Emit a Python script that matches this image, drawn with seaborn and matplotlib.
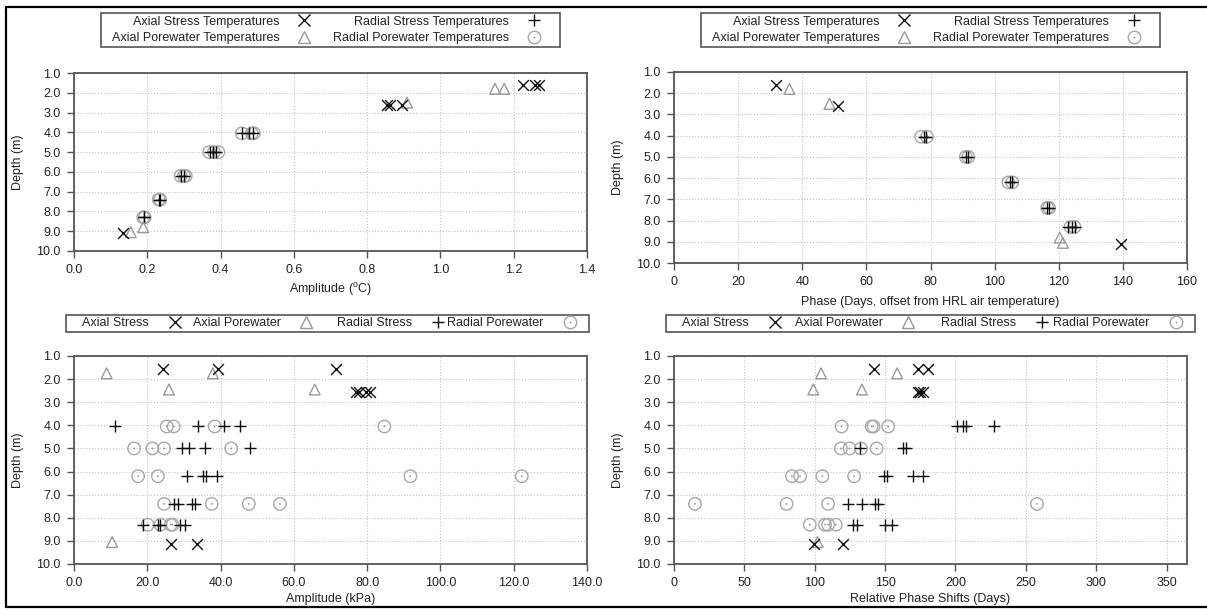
import matplotlib
matplotlib.use("Agg")
import matplotlib.pyplot as plt
import seaborn as sns
from matplotlib.lines import Line2D
from matplotlib.legend_handler import HandlerTuple
from matplotlib.ticker import FormatStrFormatter, MultipleLocator

# ---------------- data ----------------
# Panel A: temperature amplitude (deg C) vs depth (m)
a_axs_x = [1.225, 1.258, 1.268, 0.854, 0.862, 0.895, 0.133]
a_axs_d = [1.6, 1.6, 1.6, 2.6, 2.6, 2.6, 9.1]
a_axp_x = [1.149, 1.174, 0.909, 0.189, 0.155]
a_axp_d = [1.8, 1.8, 2.5, 8.8, 9.05]
a_ras_x = [0.458, 0.478, 0.488, 0.372, 0.380, 0.388, 0.293, 0.300, 0.232, 0.235, 0.190, 0.192]
a_ras_d = [4.05, 4.05, 4.05, 5.0, 5.0, 5.0, 6.2, 6.2, 7.4, 7.4, 8.3, 8.3]
a_rap_x = [0.458, 0.485, 0.491, 0.369, 0.382, 0.394, 0.291, 0.300, 0.305, 0.231, 0.235, 0.189, 0.193]
a_rap_d = [4.05, 4.05, 4.05, 5.0, 5.0, 5.0, 6.2, 6.2, 6.2, 7.4, 7.4, 8.3, 8.3]

# Panel B: temperature phase (days, offset from HRL air temperature)
b_axs_x = [31.7, 51.3, 139.4]
b_axs_d = [1.6, 2.6, 9.1]
b_axp_x = [36.0, 48.5, 120.3, 121.3]
b_axp_d = [1.8, 2.5, 8.8, 9.05]
b_ras_x = [78.0, 78.6, 91.2, 91.6, 104.8, 105.4, 116.4, 116.9, 122.8, 124.0, 125.0]
b_ras_d = [4.05, 4.05, 5.0, 5.0, 6.2, 6.2, 7.4, 7.4, 8.3, 8.3, 8.3]
b_rap_x = [77.1, 78.9, 91.0, 91.8, 104.3, 105.5, 116.4, 117.0, 123.7, 124.9]
b_rap_d = [4.05, 4.05, 5.0, 5.0, 6.2, 6.2, 7.4, 7.4, 8.3, 8.3]

# Panel C: pressure amplitude (kPa)
c_axs_x = [24.3, 39.3, 71.4, 77.0, 77.7, 79.8, 80.8, 26.6, 33.7]
c_axs_d = [1.55, 1.55, 1.55, 2.55, 2.55, 2.55, 2.55, 9.12, 9.12]
c_axp_x = [8.9, 37.9, 25.9, 65.7, 10.4]
c_axp_d = [1.75, 1.75, 2.45, 2.45, 9.05]
c_ras_x = [11.2, 33.9, 40.8, 45.2, 29.5, 31.4, 35.8, 47.9, 30.9, 35.3, 36.0, 39.0,
           27.4, 28.5, 32.2, 33.0, 18.7, 22.9, 23.6, 29.0, 30.3]
c_ras_d = [4.05, 4.05, 4.05, 4.05, 5.0, 5.0, 5.0, 5.0, 6.2, 6.2, 6.2, 6.2,
           7.4, 7.4, 7.4, 7.4, 8.3, 8.3, 8.3, 8.3, 8.3]
c_rap_x = [25.3, 27.2, 38.4, 84.7, 16.4, 21.4, 24.6, 42.9, 17.5, 22.9, 91.8, 122.2,
           24.6, 37.6, 47.7, 56.2, 20.1, 23.6, 26.4, 26.9]
c_rap_d = [4.05, 4.05, 4.05, 4.05, 5.0, 5.0, 5.0, 5.0, 6.2, 6.2, 6.2, 6.2,
           7.4, 7.4, 7.4, 7.4, 8.3, 8.3, 8.3, 8.3]

# Panel D: relative phase shifts (days)
d_axs_x = [141.8, 173.5, 180.6, 173.5, 175.1, 177.1, 99.8, 120.0]
d_axs_d = [1.55, 1.55, 1.55, 2.55, 2.55, 2.55, 9.12, 9.12]
d_axp_x = [104.5, 158.6, 99.0, 133.5, 102.0]
d_axp_d = [1.75, 1.75, 2.45, 2.45, 9.05]
d_ras_x = [201.1, 205.0, 207.4, 227.5, 132.4, 162.7, 164.7, 149.5, 151.4, 169.6, 177.1,
           123.3, 133.8, 142.6, 144.8, 127.4, 130.2, 150.0, 155.0]
d_ras_d = [4.05, 4.05, 4.05, 4.05, 5.0, 5.0, 5.0, 6.2, 6.2, 6.2, 6.2,
           7.4, 7.4, 7.4, 7.4, 8.3, 8.3, 8.3, 8.3]
d_rap_x = [119.1, 140.4, 141.8, 152.2, 118.6, 124.7, 132.9, 144.0, 83.8, 89.6, 105.4, 128.0,
           14.9, 80.0, 109.5, 257.9, 96.5, 107.3, 109.5, 115.0]
d_rap_d = [4.05, 4.05, 4.05, 4.05, 5.0, 5.0, 5.0, 5.0, 6.2, 6.2, 6.2, 6.2,
           7.4, 7.4, 7.4, 7.4, 8.3, 8.3, 8.3, 8.3]

top_labels = ["Axial Stress Temperatures", "Axial Porewater Temperatures",
              "Radial Stress Temperatures", "Radial Porewater Temperatures"]
bottom_labels = ["Axial Stress", "Axial Porewater", "Radial Stress", "Radial Porewater"]
depth_label = "Depth (m)"
x_labels = [r"Amplitude ($^{\mathrm{o}}$C)", "Phase (Days, offset from HRL air temperature)",
            "Amplitude (kPa)", "Relative Phase Shifts (Days)"]

# ---------------- style ----------------
sns.set_theme(style="ticks")
plt.rcParams["font.family"] = ["Liberation Sans", "DejaVu Sans"]
plt.rcParams["mathtext.fontset"] = "custom"
plt.rcParams["mathtext.rm"] = "Liberation Sans"
plt.rcParams["mathtext.it"] = "Liberation Sans:italic"

BLACK = "#111111"
TRI = "#9a9a9a"
CIRC = "#a8a8a8"
DOT = "#8a8a8a"
TXT = "#222222"
SPINE = "#555555"

W, H = 1207, 610
fig = plt.figure(figsize=(W / 100, H / 100), dpi=100)


def frac_rect(l, r, t, b):
    return [l / W, 1 - b / H, (r - l) / W, (b - t) / H]


ax_a = fig.add_axes(frac_rect(74, 587, 73, 251))
ax_b = fig.add_axes(frac_rect(674, 1187, 72, 263))
ax_c = fig.add_axes(frac_rect(74, 587, 356, 564))
ax_d = fig.add_axes(frac_rect(674, 1187, 356, 564))


def draw(ax, axs, axp, ras, rap):
    sns.scatterplot(x=rap[0], y=rap[1], ax=ax, marker="o", s=80, color=CIRC,
                    facecolor="none", edgecolor=CIRC, linewidth=1.0, legend=False, zorder=3)
    sns.scatterplot(x=rap[0], y=rap[1], ax=ax, marker="o", s=1.5, color=DOT,
                    edgecolor="none", linewidth=0, legend=False, zorder=3)
    sns.scatterplot(x=ras[0], y=ras[1], ax=ax, marker="+", s=80, color=BLACK,
                    linewidth=1.0, legend=False, zorder=4)
    sns.scatterplot(x=axp[0], y=axp[1], ax=ax, marker="^", s=60, color=TRI,
                    facecolor="none", edgecolor=TRI, linewidth=1.0, legend=False, zorder=5)
    sns.scatterplot(x=axs[0], y=axs[1], ax=ax, marker="x", s=60, color=BLACK,
                    linewidth=1.0, legend=False, zorder=6)


def style(ax, xlim, xstep, fmt, xlabel, xlabel_y):
    ax.set_xlim(*xlim)
    ax.set_ylim(10, 1)
    ax.xaxis.set_major_locator(MultipleLocator(xstep))
    ax.yaxis.set_major_locator(MultipleLocator(1))
    ax.xaxis.set_major_formatter(FormatStrFormatter(fmt))
    ax.yaxis.set_major_formatter(FormatStrFormatter("%.1f"))
    ax.grid(True, color="#c4c4c4", ls=":", lw=0.8)
    ax.set_axisbelow(True)
    for sp in ax.spines.values():
        sp.set_color(SPINE)
        sp.set_linewidth(1.3)
    ax.tick_params(direction="out", length=5, width=1, color=SPINE, labelsize=9,
                   labelcolor=TXT, pad=4.5, top=False, right=False, left=True, bottom=True)
    ax.set_xlabel(xlabel, fontsize=9, color=TXT)
    ax.set_ylabel(depth_label, fontsize=9, color=TXT)
    ax.xaxis.set_label_coords(0.5, xlabel_y)
    ax.yaxis.set_label_coords(-0.097, 0.5)


draw(ax_a, (a_axs_x, a_axs_d), (a_axp_x, a_axp_d), (a_ras_x, a_ras_d), (a_rap_x, a_rap_d))
draw(ax_b, (b_axs_x, b_axs_d), (b_axp_x, b_axp_d), (b_ras_x, b_ras_d), (b_rap_x, b_rap_d))
draw(ax_c, (c_axs_x, c_axs_d), (c_axp_x, c_axp_d), (c_ras_x, c_ras_d), (c_rap_x, c_rap_d))
draw(ax_d, (d_axs_x, d_axs_d), (d_axp_x, d_axp_d), (d_ras_x, d_ras_d), (d_rap_x, d_rap_d))

style(ax_a, (0, 1.4), 0.2, "%.1f", x_labels[0], -30 / 178)
style(ax_b, (0, 160), 20, "%d", x_labels[1], -33 / 191)
style(ax_c, (0, 140), 20, "%.1f", x_labels[2], -29 / 208)
style(ax_d, (0, 364.5), 50, "%d", x_labels[3], -29 / 208)


# ---------------- legends ----------------
def handles():
    h_as = Line2D([], [], ls="none", marker="x", ms=8, mew=1.0, color=BLACK)
    h_ap = Line2D([], [], ls="none", marker="^", ms=8, mew=1.0, mfc="none", mec=TRI)
    h_rs = Line2D([], [], ls="none", marker="+", ms=9, mew=1.0, color=BLACK)
    h_rp = (Line2D([], [], ls="none", marker="o", ms=9, mew=1.0, mfc="none", mec=CIRC),
            Line2D([], [], ls="none", marker="o", ms=1.2, mew=0, color=DOT))
    return [h_as, h_ap, h_rs, h_rp]


common = dict(markerfirst=False, fontsize=9, frameon=True, fancybox=False, framealpha=1,
              edgecolor=SPINE, borderaxespad=0, labelcolor=TXT,
              bbox_transform=fig.transFigure, handler_map={tuple: HandlerTuple(ndivide=1)})

for cx in (330.5, 930.5):
    leg = fig.legend(handles(), top_labels, ncol=2, loc="upper center",
                     bbox_to_anchor=(cx / W, 1 - 13 / H), borderpad=0.2, labelspacing=0.4,
                     handlelength=3.7, handletextpad=0.15, columnspacing=0.46, **common)
    leg.get_frame().set_linewidth(1.2)
    cols = leg._legend_handle_box.get_children()
    cols[0].width = 224

for x0, x1 in ((66, 589), (666, 1195)):
    leg = fig.legend(handles(), bottom_labels, ncol=4, mode="expand", loc="center",
                     bbox_to_anchor=(x0 / W, 1 - 333 / H, (x1 - x0) / W, 19 / H),
                     borderpad=0.2, handlelength=2.72, handletextpad=0.7, columnspacing=0.5,
                     **common)
    leg.get_frame().set_linewidth(1.2)
    for c in leg._legend_handle_box.get_children():
        c.width = 123.2

# ---------------- figure border ----------------
for (xa, xb, ya, yb) in ((6, 6, 7, 607), (6, W, 7, 7), (6, W, 607, 607)):
    fig.add_artist(Line2D([xa / W, xb / W], [1 - ya / H, 1 - yb / H],
                          transform=fig.transFigure, color="black", lw=1.6))

fig.savefig("out.png", dpi=100)
